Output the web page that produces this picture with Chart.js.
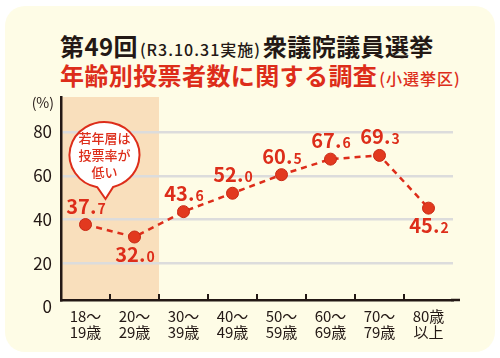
<!DOCTYPE html>
<html lang="ja">
<head>
<meta charset="utf-8">
<script src="https://cdn.jsdelivr.net/npm/chart.js@4"></script>
<style>
body { margin: 0; background: #fff; }
#wrap { position: relative; width: 500px; height: 358px; overflow: hidden; }
#card { position: absolute; left: 5px; top: 6px; width: 490px; height: 346px; background: #FEFCE6; border-radius: 20px; }
#chart { position: absolute; left: 0; top: 0; }
.t { position: absolute; left: 60px; white-space: nowrap; font-family: "Noto Sans CJK JP", sans-serif; font-weight: 700; line-height: 24px; }
.big { font-size: 24px; letter-spacing: 0.4px; }
.sm { font-size: 16px; font-weight: 500; letter-spacing: 1px; margin: 0 2px; }
#t1 { top: 34px; color: #231815; }
#t2 { top: 63px; color: #DD2D1A; }
</style>
</head>
<body>
<div id="wrap">
  <div id="card"></div>
  <div class="t" id="t1"><span class="big">第49回</span><span class="sm">(R3.10.31実施)</span><span class="big">衆議院議員選挙</span></div>
  <div class="t" id="t2"><span class="big">年齢別投票者数に関する調査</span><span class="sm">(小選挙区)</span></div>
  <canvas id="chart" width="500" height="358"></canvas>
</div>
<script>
// datos
const ageLabels = [['18〜', '19歳'], ['20〜', '29歳'], ['30〜', '39歳'], ['40〜', '49歳'],
                   ['50〜', '59歳'], ['60〜', '69歳'], ['70〜', '79歳'], ['80歳', '以上']];
const turnout = [37.7, 32.0, 43.6, 52.0, 60.5, 67.6, 69.3, 45.2];
const yTicks = [0, 20, 40, 60, 80];
const youthGroups = 2;               // categorías sombreadas
const bubbleLines = ['若年層は', '投票率が', '低い'];
const unitLabel = '(%)';

const RED = '#DD2D1A';
const INK = '#231815';
const JP = '"Noto Sans CJK JP", sans-serif';

// sombreado de jóvenes, detrás de la cuadrícula
const youthShade = {
    id: 'youthShade',
    beforeDraw(chart) {
        const { ctx, chartArea, scales: { x } } = chart;
        const right = (x.getPixelForValue(youthGroups - 1) + x.getPixelForValue(youthGroups)) / 2;
        ctx.save();
        ctx.fillStyle = '#F9DFBC';
        ctx.fillRect(chartArea.left, chartArea.top, right - chartArea.left, chartArea.bottom - chartArea.top);
        ctx.restore();
    }
};

// marcas del eje x, etiquetas de valores, globo y unidad
const decorations = {
    id: 'decorations',
    afterDatasetsDraw(chart) {
        const { ctx, chartArea, scales: { x, y } } = chart;
        ctx.save();

        // marcas entre categorías, hacia arriba
        ctx.strokeStyle = INK;
        ctx.lineWidth = 2;
        for (let i = 1; i < ageLabels.length; i++) {
            const px = (x.getPixelForValue(i - 1) + x.getPixelForValue(i)) / 2;
            ctx.beginPath();
            ctx.moveTo(px, chartArea.bottom);
            ctx.lineTo(px, chartArea.bottom - 6);
            ctx.stroke();
        }
        // prolongación del eje x
        ctx.lineWidth = 2.5;
        ctx.beginPath();
        ctx.moveTo(chartArea.right - 2, chartArea.bottom);
        ctx.lineTo(chartArea.right + 7, chartArea.bottom);
        ctx.stroke();

        // etiquetas de valor (decimal más pequeño)
        const meta = chart.getDatasetMeta(0);
        ctx.fillStyle = RED;
        ctx.textBaseline = 'alphabetic';
        meta.data.forEach((pt, i) => {
            const txt = turnout[i].toFixed(1);
            const head = txt.slice(0, -1), tail = txt.slice(-1);
            const below = i > 0 && turnout[i] < turnout[i - 1];
            ctx.font = 'bold 20px ' + JP;
            const wHead = ctx.measureText(head).width;
            ctx.font = 'bold 14px ' + JP;
            const wTail = ctx.measureText(tail).width;
            const left = pt.x - (wHead + wTail) / 2;
            const base = below ? pt.y + 25 : pt.y - 11;
            ctx.textAlign = 'left';
            ctx.font = 'bold 20px ' + JP;
            ctx.fillText(head, left, base);
            ctx.font = 'bold 14px ' + JP;
            ctx.fillText(tail, left + wHead + 1, base);
        });

        // globo de comentario
        const cx = x.getPixelForValue(0) + 19;
        const cy = y.getPixelForValue(69.5);
        const rx = 35, ry = 33;
        const tipY = cy + ry + 11;
        ctx.beginPath();
        ctx.ellipse(cx, cy, rx, ry, 0, 1.78, 1.32 + Math.PI * 2);
        ctx.lineTo(cx + 1, tipY);
        ctx.closePath();
        ctx.fillStyle = '#fff';
        ctx.fill();
        ctx.strokeStyle = RED;
        ctx.lineWidth = 2;
        ctx.stroke();
        ctx.fillStyle = RED;
        ctx.font = '500 13px ' + JP;
        ctx.textAlign = 'center';
        ctx.textBaseline = 'middle';
        bubbleLines.forEach((line, i) => {
            ctx.fillText(line, cx, cy + (i - 1) * 17);
        });

        // unidad
        ctx.fillStyle = INK;
        ctx.font = '14px ' + JP;
        ctx.textAlign = 'right';
        ctx.textBaseline = 'middle';
        ctx.fillText(unitLabel, chartArea.left - 7, chartArea.top + 6);

        ctx.restore();
    }
};

new Chart(document.getElementById('chart'), {
    type: 'line',
    data: {
        labels: ageLabels,
        datasets: [{
            data: turnout,
            borderColor: RED,
            borderWidth: 2.5,
            borderDash: [6, 5],
            pointRadius: 6,
            pointBackgroundColor: '#E2391F',
            pointBorderColor: '#C82814',
            pointBorderWidth: 1,
            tension: 0
        }]
    },
    options: {
        responsive: false,
        animation: false,
        events: [],
        layout: { padding: { top: 97, right: 47, left: 0, bottom: 0 } },
        plugins: { legend: { display: false }, tooltip: { enabled: false } },
        scales: {
            x: {
                offset: true,
                afterFit: s => { s.height = 58; },
                grid: { display: false },
                border: { display: true, color: INK, width: 2.5 },
                ticks: { color: INK, padding: 0, font: { family: JP, size: 15, lineHeight: 1.1 }, maxRotation: 0, autoSkip: false }
            },
            y: {
                // el 0 del original queda algo por debajo del eje
                min: 3.2,
                max: 96,
                afterFit: s => { s.width = 61; },
                afterBuildTicks: s => { s.ticks = yTicks.map(v => ({ value: v })); },
                grid: {
                    color: c => c.tick && c.tick.value === 0 ? 'rgba(0,0,0,0)' : '#DCDCDC',
                    lineWidth: 2.5,
                    drawTicks: false
                },
                border: { display: true, color: INK, width: 2.5 },
                ticks: { color: INK, padding: 9, font: { family: JP, size: 17 } }
            }
        }
    },
    plugins: [youthShade, decorations]
});
</script>
</body>
</html>
